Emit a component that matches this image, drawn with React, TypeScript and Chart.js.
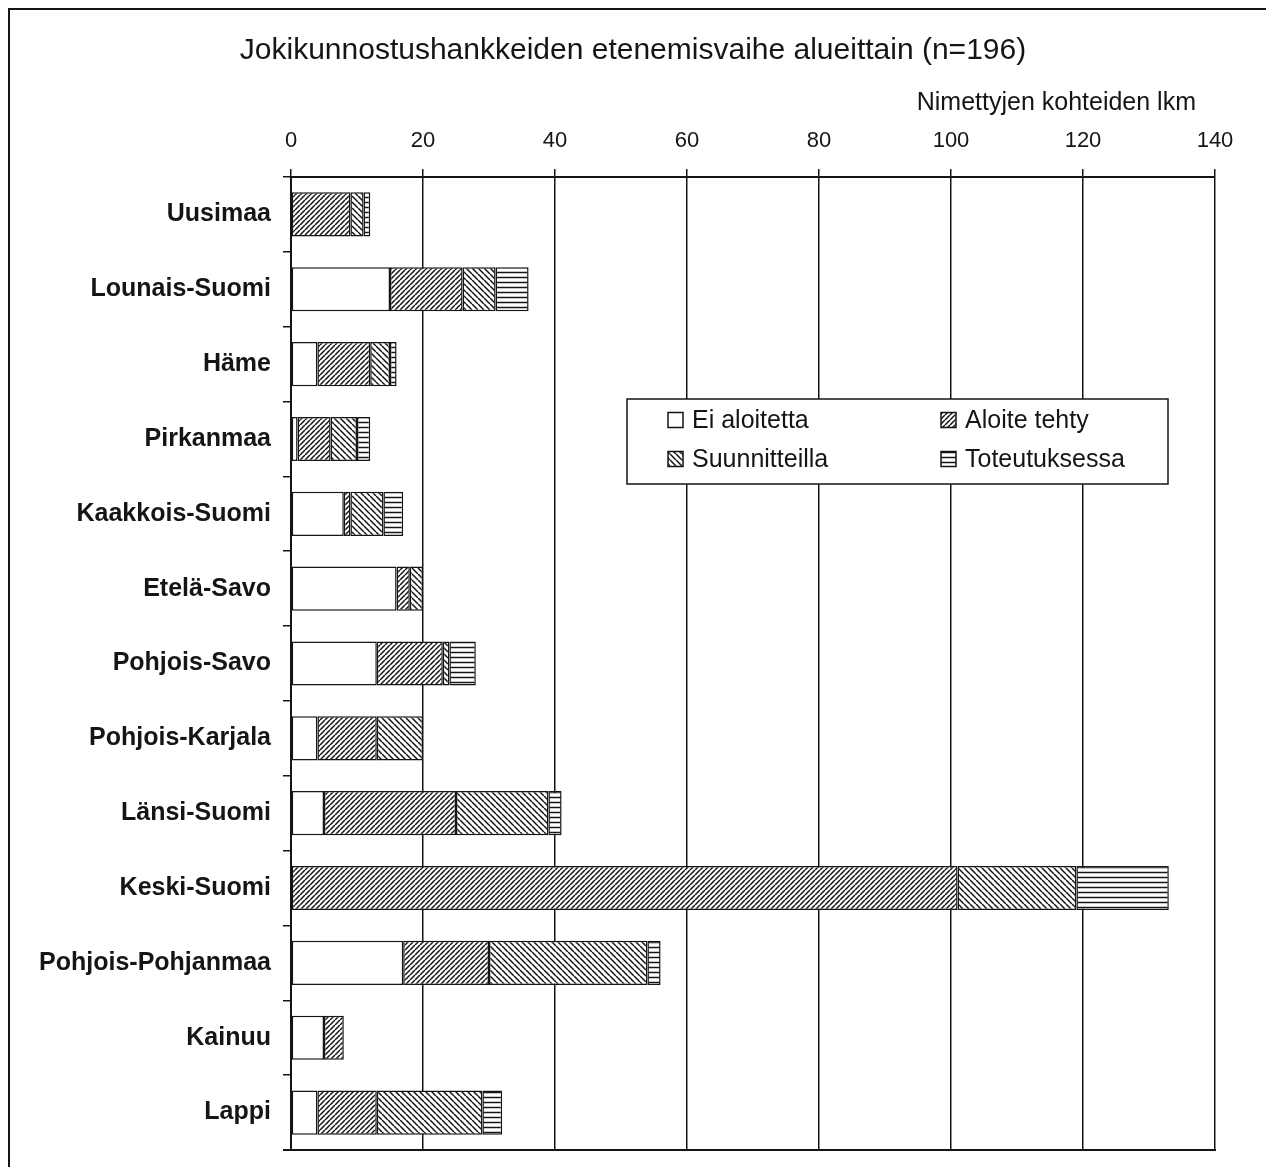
import { useEffect, useRef } from 'react';
import { Chart, registerables } from 'chart.js';

Chart.register(...registerables);

const categories = [
  'Uusimaa',
  'Lounais-Suomi',
  'Häme',
  'Pirkanmaa',
  'Kaakkois-Suomi',
  'Etelä-Savo',
  'Pohjois-Savo',
  'Pohjois-Karjala',
  'Länsi-Suomi',
  'Keski-Suomi',
  'Pohjois-Pohjanmaa',
  'Kainuu',
  'Lappi',
];
const eiAloitettu = [0, 15, 4, 1, 8, 16, 13, 4, 5, 0, 17, 5, 4];
const aloiteTehty = [9, 11, 8, 5, 1, 2, 10, 9, 20, 101, 13, 3, 9];
const suunnitteilla = [2, 5, 3, 4, 5, 2, 1, 7, 14, 18, 24, 0, 16];
const toteutuksessa = [1, 5, 1, 2, 3, 0, 4, 0, 2, 14, 2, 0, 3];
const seriesNames = ['Ei aloitetta', 'Aloite tehty', 'Suunnitteilla', 'Toteutuksessa'];
const xMin = 0;
const xMax = 140;
const xStep = 20;
const chartTitle = 'Jokikunnostushankkeiden etenemisvaihe alueittain (n=196)';
const axisTitle = 'Nimettyjen kohteiden lkm';

const FONT = '"Liberation Sans", Arial, Helvetica, sans-serif';
const INK = '#151515';

type Kind = 'none' | 'fwd' | 'back' | 'horiz';

function makePattern(ctx: CanvasRenderingContext2D, kind: Kind): CanvasPattern | string {
  if (kind === 'none') return '#ffffff';
  const size = kind === 'back' ? 6 : 5;
  const t = document.createElement('canvas');
  t.width = size;
  t.height = size;
  const g = t.getContext('2d')!;
  g.fillStyle = '#ffffff';
  g.fillRect(0, 0, size, size);
  g.strokeStyle = INK;
  g.lineWidth = 1.5;
  g.beginPath();
  if (kind === 'fwd') {
    for (const o of [-size, 0, size]) {
      g.moveTo(o, size);
      g.lineTo(o + size, 0);
    }
  } else if (kind === 'back') {
    for (const o of [-size, 0, size]) {
      g.moveTo(o, 0);
      g.lineTo(o + size, size);
    }
  } else {
    g.moveTo(0, size / 2);
    g.lineTo(size, size / 2);
  }
  g.stroke();
  return ctx.createPattern(t, 'repeat') || '#ffffff';
}

const decorPlugin = {
  id: 'decor',
  afterDraw(chart: any) {
    const { ctx, chartArea } = chart;
    ctx.save();
    // bottom frame of plot
    ctx.strokeStyle = INK;
    ctx.lineWidth = 2;
    ctx.beginPath();
    ctx.moveTo(chartArea.left - 8, chartArea.bottom);
    ctx.lineTo(chartArea.right + 1, chartArea.bottom);
    ctx.stroke();

    // chart title
    ctx.fillStyle = INK;
    ctx.font = `30px ${FONT}`;
    ctx.textAlign = 'center';
    ctx.textBaseline = 'middle';
    ctx.fillText(chartTitle, 623, 41);

    // axis title (right aligned)
    ctx.font = `25px ${FONT}`;
    ctx.textAlign = 'right';
    ctx.fillText(axisTitle, 1186, 93);

    // legend box
    const bx = 617;
    const by = 389;
    const bw = 541;
    const bh = 85;
    ctx.fillStyle = '#ffffff';
    ctx.fillRect(bx, by, bw, bh);
    ctx.strokeStyle = INK;
    ctx.lineWidth = 1.5;
    ctx.strokeRect(bx, by, bw, bh);
    const spots = [
      [658, 410],
      [931, 410],
      [658, 449],
      [931, 449],
    ];
    ctx.font = `25px ${FONT}`;
    ctx.textAlign = 'left';
    ctx.textBaseline = 'middle';
    chart.data.datasets.forEach((ds: any, i: number) => {
      const [sx, sy] = spots[i];
      const s = 15;
      ctx.fillStyle = ds.backgroundColor;
      ctx.fillRect(sx, sy - s / 2, s, s);
      ctx.strokeStyle = INK;
      ctx.lineWidth = 1.5;
      ctx.strokeRect(sx, sy - s / 2, s, s);
      ctx.fillStyle = INK;
      ctx.fillText(ds.label, sx + 24, sy + 1);
    });
    ctx.restore();
  },
};

export default function App() {
  const canvasRef = useRef<HTMLCanvasElement | null>(null);

  useEffect(() => {
    const canvas = canvasRef.current;
    if (!canvas) return;
    const ctx = canvas.getContext('2d')!;
    const kinds: Kind[] = ['none', 'fwd', 'back', 'horiz'];
    const values = [eiAloitettu, aloiteTehty, suunnitteilla, toteutuksessa];

    const chart = new Chart(ctx, {
      type: 'bar',
      data: {
        labels: categories,
        datasets: values.map((v, i) => ({
          label: seriesNames[i],
          data: v,
          backgroundColor: makePattern(ctx, kinds[i]) as any,
          borderColor: INK,
          borderWidth: 1.5,
          borderSkipped: false,
          barPercentage: 0.59,
          categoryPercentage: 1,
          stack: 's',
        })),
      },
      options: {
        indexAxis: 'y',
        responsive: false,
        animation: false,
        devicePixelRatio: 1,
        layout: { padding: { left: 0, right: 51, top: 65, bottom: 10 } },
        plugins: {
          legend: { display: false },
          tooltip: { enabled: false },
          title: { display: false },
        },
        scales: {
          x: {
            type: 'linear',
            position: 'top',
            min: xMin,
            max: xMax,
            stacked: true,
            afterFit: (scale: any) => {
              scale.height = 102;
            },
            ticks: {
              stepSize: xStep,
              color: INK,
              padding: 15,
              font: { family: FONT, size: 22 },
            },
            grid: {
              color: INK,
              lineWidth: 1.5,
              drawTicks: true,
              tickLength: 8,
            },
            border: { display: true, color: INK, width: 2 },
          },
          y: {
            type: 'category',
            stacked: true,
            afterFit: (scale: any) => {
              scale.width = 281;
              scale.paddingTop = 0;
              scale.paddingBottom = 0;
            },
            ticks: {
              color: INK,
              padding: 12,
              font: { family: FONT, size: 25, weight: 'bold' as any },
            },
            grid: {
              display: true,
              drawOnChartArea: false,
              drawTicks: true,
              tickLength: 8,
              color: INK,
              lineWidth: 1.5,
              offset: true,
            },
            border: { display: true, color: INK, width: 2 },
          },
        },
      },
      plugins: [decorPlugin],
    });
    return () => chart.destroy();
  }, []);

  return (
    <div
      style={{
        position: 'relative',
        width: 1260,
        height: 1159,
        boxSizing: 'border-box',
        border: `2px solid ${INK}`,
        borderBottom: 'none',
        background: '#fff',
      }}
    >
      <canvas ref={canvasRef} width={1256} height={1150} style={{ display: 'block' }} />
    </div>
  );
}
